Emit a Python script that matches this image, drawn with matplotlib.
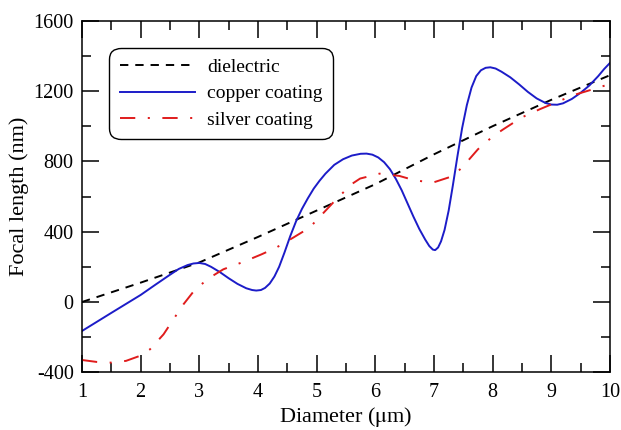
import matplotlib
matplotlib.use("Agg")
import matplotlib.pyplot as plt
from matplotlib.ticker import MultipleLocator

plt.rcParams['font.family'] = ['Liberation Serif', 'DejaVu Serif']
plt.rcParams['mathtext.fontset'] = 'stix'
plt.rcParams['lines.scale_dashes'] = False
plt.rcParams['axes.unicode_minus'] = False

# Dielectric
diel_x = [1, 2, 3, 4, 5, 6, 7, 8, 9, 10]
diel_y = [0, 110, 225, 370, 520, 670, 840, 1000, 1150, 1290]

# Copper coating
cu_x = [1.0, 1.5, 2.0, 2.25, 2.5, 2.65, 2.8, 2.9, 3.0, 3.1, 3.2, 3.35, 3.5, 3.65,
        3.8, 3.9, 3.97, 4.05, 4.12, 4.2, 4.28, 4.36, 4.45, 4.55, 4.65, 4.75, 4.85,
        4.95, 5.05, 5.15, 5.3, 5.45, 5.6, 5.75, 5.85, 5.95, 6.05, 6.15, 6.25, 6.35,
        6.45, 6.55, 6.65, 6.75, 6.85, 6.92, 6.98, 7.02, 7.07, 7.12, 7.18, 7.25,
        7.32, 7.4, 7.48, 7.56, 7.64, 7.72, 7.8, 7.88, 7.96, 8.05, 8.15, 8.3, 8.45,
        8.6, 8.75, 8.9, 9.0, 9.1, 9.2, 9.35, 9.5, 9.65, 9.8, 9.9, 10.0]
cu_y = [-165, -62, 40, 98, 155, 188, 210, 219, 222, 216, 200, 170, 135, 103,
        78, 68, 65, 68, 80, 105, 145, 200, 280, 375, 460, 530, 590,
        645, 690, 730, 780, 812, 833, 843, 844, 838, 822, 795, 755, 700,
        635, 560, 485, 415, 355, 318, 298, 295, 310, 345, 410, 520,
        660, 830, 990, 1120, 1220, 1285, 1318, 1332, 1335, 1328, 1310, 1278, 1238,
        1195, 1158, 1132, 1123, 1122, 1130, 1155, 1190, 1232, 1285, 1325, 1360]

# Silver coating
ag_x = [1.0, 1.25, 1.5, 1.75, 2.0, 2.16, 2.39, 2.56, 2.73, 2.93, 3.18, 3.41, 3.75,
        4.06, 4.31, 4.6, 4.88, 5.28, 5.59, 5.74, 6.07, 6.41, 6.67, 6.98, 7.33, 7.5,
        7.75, 8.01, 8.18, 8.49, 8.8, 9.03, 9.37, 9.71, 10.0]
ag_y = [-330, -341, -345, -335, -305, -269, -184, -98, -13, 72, 139, 186, 228,
        271, 309, 366, 423, 565, 669, 702, 730, 717, 692, 679, 717, 773,
        869, 944, 982, 1049, 1096, 1128, 1176, 1210, 1240]

fig = plt.figure(figsize=(6.21, 4.30), dpi=100)
ax = fig.add_axes([82/621, 1 - 372.3/430, 528/621, 351.6/430])

ax.plot(diel_x, diel_y, color='black', lw=1.4, ls=(0, (6, 5)), label='dielectric')
ax.plot(cu_x, cu_y, color='#1c1cc8', lw=1.4, label='copper coating')
ax.plot(ag_x, ag_y, color='#e01c1c', lw=1.4, ls=(0, (11, 9, 1.5, 9)), label='silver coating')

ax.set_xlim(1, 10)
ax.set_ylim(-400, 1600)
ax.xaxis.set_major_locator(MultipleLocator(1))
ax.xaxis.set_minor_locator(MultipleLocator(0.5))
ax.yaxis.set_major_locator(MultipleLocator(400))
ax.yaxis.set_minor_locator(MultipleLocator(200))
ax.tick_params(which='both', direction='in', top=True, right=True, width=1.1, labelsize=14.5)
ax.tick_params(which='major', length=12)
ax.tick_params(axis='x', which='major', pad=8)
ax.tick_params(axis='y', which='major', pad=6)
ax.tick_params(which='minor', length=6.5)
for s in ax.spines.values():
    s.set_linewidth(1.1)

ax.set_xlabel('Diameter ($\\mathrm{\\mu}$m)', fontsize=16, labelpad=2)
ax.set_ylabel('Focal length (nm)', fontsize=16, labelpad=3)

leg = ax.legend(loc='upper left', bbox_to_anchor=(0.051, 0.923), borderaxespad=0,
                fontsize=14, handlelength=3.9, handletextpad=0.6, labelspacing=0.45,
                borderpad=0.55, frameon=True, fancybox=True, framealpha=1)
leg.get_frame().set_edgecolor('black')
leg.get_frame().set_linewidth(1.0)
leg.get_frame().set_boxstyle('round', pad=0, rounding_size=0.6)

fig.savefig('out.png', dpi=100)
